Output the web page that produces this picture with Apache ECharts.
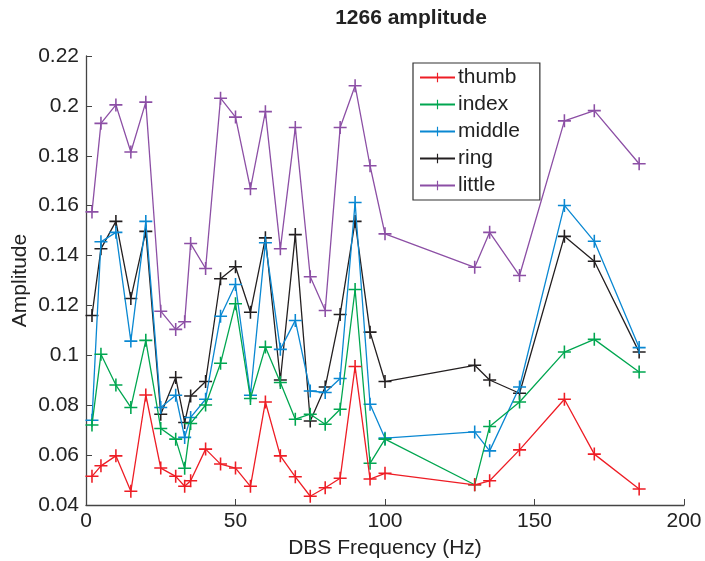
<!DOCTYPE html>
<html><head><meta charset="utf-8">
<script src="https://cdn.jsdelivr.net/npm/echarts@6/dist/echarts.min.js"></script>
<style>html,body{margin:0;padding:0;background:#fff}#c{width:705px;height:561px}</style>
</head><body><div id="c"></div>
<script>
const freqs = [2,5,10,15,20,25,30,33,35,40,45,50,55,60,65,70,75,80,85,90,95,100,130,135,145,160,170,185];
const thumb  = [0.0515,0.0557,0.0597,0.0455,0.0841,0.0548,0.0515,0.0475,0.0497,0.0624,0.0564,0.0548,0.0475,0.0813,0.0597,0.0513,0.0435,0.0469,0.0507,0.0955,0.0504,0.0527,0.0481,0.0497,0.0621,0.0824,0.0604,0.0464];
const index  = [0.0721,0.1004,0.0881,0.0791,0.1060,0.0707,0.0664,0.0547,0.0727,0.0801,0.0968,0.1207,0.0827,0.1033,0.0891,0.0744,0.0764,0.0724,0.0784,0.1264,0.0567,0.0664,0.0481,0.0715,0.0813,0.1013,0.1064,0.0933];
const middle = [0.0740,0.1455,0.1493,0.1057,0.1537,0.0791,0.0840,0.0671,0.0751,0.0824,0.1157,0.1284,0.0840,0.1451,0.1024,0.1140,0.0857,0.0851,0.0907,0.1613,0.0804,0.0668,0.0693,0.0617,0.0873,0.1601,0.1457,0.1031];
const ring   = [0.1160,0.1427,0.1537,0.1228,0.1497,0.0764,0.0911,0.0731,0.0837,0.0895,0.1307,0.1355,0.1173,0.1471,0.0901,0.1484,0.0737,0.0873,0.1164,0.1537,0.1093,0.0895,0.0960,0.0901,0.0848,0.1477,0.1377,0.1013];
const little = [0.1575,0.1930,0.2004,0.1815,0.2015,0.1177,0.1104,0.1135,0.1448,0.1348,0.2031,0.1955,0.1668,0.1977,0.1427,0.1913,0.1315,0.1180,0.1913,0.2081,0.1760,0.1487,0.1353,0.1493,0.1320,0.1940,0.1981,0.1768];
const seriesNames = ['thumb','index','middle','ring','little'];
const seriesData = [thumb,index,middle,ring,little];
const colors = ['#EE1D25','#00A650','#0A88D2','#231F20','#8C4FA5'];
const xTicks = [0,50,100,150,200];
const yTicks = [0.04,0.06,0.08,0.1,0.12,0.14,0.16,0.18,0.2,0.22];

const FONT = '"Liberation Sans", Arial, Helvetica, sans-serif';
const cross = 'path://M0,4.4H10V5.6H0Z M4.4,0H5.6V10H4.4Z';
const FS = 21;

const chart = echarts.init(document.getElementById('c'), null, {renderer:'canvas'});
chart.setOption({
  animation:false,
  backgroundColor:'#fff',
  textStyle:{fontFamily:FONT},
  title:{text:'1266 amplitude',left:406,top:3,textAlign:'center',
    textStyle:{fontFamily:FONT,fontSize:21,fontWeight:'bold',color:'#222'}},
  grid:{left:86,right:21,top:56,bottom:56,containLabel:false,outerBoundsMode:'none'},
  legend:{
    orient:'vertical',left:413,top:63,
    data:seriesNames,
    backgroundColor:'#fff',borderColor:'#333',borderWidth:1.2,borderRadius:0,
    padding:[4,20,4,6],itemGap:6,itemWidth:35,itemHeight:12,
    textStyle:{fontFamily:FONT,fontSize:FS,lineHeight:21,color:'#222',padding:[0,0,0,-2]}
  },
  xAxis:{
    type:'value',min:xTicks[0],max:xTicks[xTicks.length-1],interval:50,
    name:'DBS Frequency (Hz)',nameLocation:'middle',nameGap:33,nameMoveOverlap:false,
    nameTextStyle:{fontFamily:FONT,fontSize:FS,color:'#222'},
    axisLine:{show:true,lineStyle:{color:'#444',width:1.3}},
    axisTick:{show:true,inside:true,length:6,lineStyle:{color:'#444'}},
    axisLabel:{fontFamily:FONT,fontSize:FS,color:'#222',margin:6},
    splitLine:{show:false}
  },
  yAxis:{
    type:'value',min:yTicks[0],max:yTicks[yTicks.length-1],interval:0.02,
    name:'Amplitude',nameLocation:'middle',nameGap:55,nameRotate:90,nameMoveOverlap:false,
    nameTextStyle:{fontFamily:FONT,fontSize:FS,color:'#222'},
    axisLine:{show:true,lineStyle:{color:'#444',width:1.3}},
    axisTick:{show:true,inside:true,length:6,lineStyle:{color:'#444'}},
    axisLabel:{fontFamily:FONT,fontSize:FS,color:'#222',margin:7,
      formatter:v=>String(Math.round(v*100)/100)},
    splitLine:{show:false}
  },
  series:seriesNames.map((n,i)=>({
    name:n,type:'line',
    data:freqs.map((f,j)=>[f,seriesData[i][j]]),
    symbol:cross,symbolSize:13,showSymbol:true,
    lineStyle:{color:colors[i],width:1.3},
    itemStyle:{color:colors[i]},
    emphasis:{disabled:true},
    z:10-i
  }))
});
</script></body></html>
